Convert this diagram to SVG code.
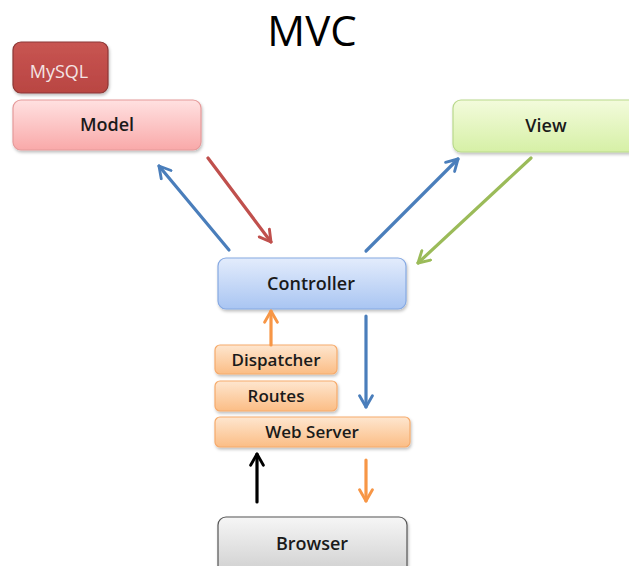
<svg xmlns="http://www.w3.org/2000/svg" width="629" height="566" viewBox="0 0 629 566">
<defs>
<linearGradient id="gModel" x1="0" y1="0" x2="0" y2="1"><stop offset="0" stop-color="#ffe1e1"/><stop offset="1" stop-color="#f9a9a9"/></linearGradient>
<linearGradient id="gSql" x1="0" y1="0" x2="0" y2="1"><stop offset="0" stop-color="#c85552"/><stop offset="1" stop-color="#b94542"/></linearGradient>
<linearGradient id="gView" x1="0" y1="0" x2="0" y2="1"><stop offset="0" stop-color="#f3fbdc"/><stop offset="1" stop-color="#d6f0a6"/></linearGradient>
<linearGradient id="gCtrl" x1="0" y1="0" x2="0" y2="1"><stop offset="0" stop-color="#e3ecfc"/><stop offset="1" stop-color="#a9c5f2"/></linearGradient>
<linearGradient id="gOr" x1="0" y1="0" x2="0" y2="1"><stop offset="0" stop-color="#fee6cf"/><stop offset="1" stop-color="#fbbd85"/></linearGradient>
<linearGradient id="gBr" x1="0" y1="0" x2="0" y2="1"><stop offset="0" stop-color="#f6f6f6"/><stop offset="1" stop-color="#cdcdcd"/></linearGradient>
<filter id="sh" x="-10%" y="-20%" width="120%" height="150%"><feDropShadow dx="1" dy="2" stdDeviation="1.5" flood-color="#000" flood-opacity="0.25"/></filter>
<marker id="aBlue" viewBox="0 0 10 10" refX="8" refY="5" markerWidth="5" markerHeight="5" orient="auto" markerUnits="strokeWidth"><path d="M1,1 L8,5 L1,9" fill="none" stroke="#4a7ebb" stroke-width="1.8" stroke-linecap="round" stroke-linejoin="round"/></marker>
<marker id="aRed" viewBox="0 0 10 10" refX="8" refY="5" markerWidth="5" markerHeight="5" orient="auto" markerUnits="strokeWidth"><path d="M1,1 L8,5 L1,9" fill="none" stroke="#c0504d" stroke-width="1.8" stroke-linecap="round" stroke-linejoin="round"/></marker>
<marker id="aGreen" viewBox="0 0 10 10" refX="8" refY="5" markerWidth="5" markerHeight="5" orient="auto" markerUnits="strokeWidth"><path d="M1,1 L8,5 L1,9" fill="none" stroke="#9bbb59" stroke-width="1.8" stroke-linecap="round" stroke-linejoin="round"/></marker>
<marker id="aOr" viewBox="0 0 10 10" refX="8" refY="5" markerWidth="5" markerHeight="5" orient="auto" markerUnits="strokeWidth"><path d="M1,1 L8,5 L1,9" fill="none" stroke="#f79646" stroke-width="1.8" stroke-linecap="round" stroke-linejoin="round"/></marker>
<marker id="aBlk" viewBox="0 0 10 10" refX="8" refY="5" markerWidth="5" markerHeight="5" orient="auto" markerUnits="strokeWidth"><path d="M1,1 L8,5 L1,9" fill="none" stroke="#000" stroke-width="1.8" stroke-linecap="round" stroke-linejoin="round"/></marker>
</defs>
<style>
text{font-family:"Open Sans","Liberation Sans",sans-serif;font-weight:600;text-anchor:middle;fill:#1a1a1a;}
.lbl{font-size:18px;}
.sm{font-size:17px;}
.box{filter:url(#sh);stroke-width:1.2;}
.c{fill:none;stroke-width:3.2;stroke-linecap:round;}
</style>
<rect width="629" height="566" fill="#ffffff"/>
<text x="312" y="46" style="font-size:42px;font-weight:400;fill:#000">MVC</text>

<g id="mysql"><rect class="box" x="13" y="42" width="95" height="51" rx="8" fill="url(#gSql)" stroke="#8c3836"/><text class="lbl" x="59" y="78" style="fill:#f4e4e4;font-weight:400">MySQL</text></g>
<g id="model"><rect class="box" x="13" y="100" width="188" height="50" rx="8" fill="url(#gModel)" stroke="#e59a9a"/><text class="lbl" x="107" y="131">Model</text></g>
<g id="view"><rect class="box" x="453" y="100" width="190" height="52" rx="8" fill="url(#gView)" stroke="#b9d98c"/><text class="lbl" x="546" y="132">View</text></g>
<g id="controller"><rect class="box" x="218" y="258" width="188" height="51" rx="8" fill="url(#gCtrl)" stroke="#86a9e2"/><text class="lbl" x="311" y="290">Controller</text></g>
<g id="dispatcher"><rect class="box" x="215" y="345" width="122" height="29" rx="5" fill="url(#gOr)" stroke="#f6ab6c"/><text class="sm" x="276" y="366">Dispatcher</text></g>
<g id="routes"><rect class="box" x="215" y="381" width="122" height="30" rx="5" fill="url(#gOr)" stroke="#f6ab6c"/><text class="sm" x="276" y="402">Routes</text></g>
<g id="webserver"><rect class="box" x="215" y="417" width="195" height="30" rx="5" fill="url(#gOr)" stroke="#f6ab6c"/><text class="sm" x="312" y="438">Web Server</text></g>
<g id="browser"><rect class="box" x="218" y="517" width="189" height="60" rx="8" fill="url(#gBr)" stroke="#555"/><text class="lbl" x="312" y="550">Browser</text></g>

<g id="connectors">
<line class="c" x1="229" y1="250" x2="159" y2="166" stroke="#4a7ebb" marker-end="url(#aBlue)"/>
<line class="c" x1="208" y1="158" x2="271" y2="242" stroke="#c0504d" marker-end="url(#aRed)"/>
<line class="c" x1="366" y1="251" x2="458" y2="159" stroke="#4a7ebb" marker-end="url(#aBlue)"/>
<line class="c" x1="531" y1="158" x2="418" y2="263" stroke="#9bbb59" marker-end="url(#aGreen)"/>
<line class="c" x1="271" y1="345" x2="271" y2="311" stroke="#f79646" marker-end="url(#aOr)"/>
<line class="c" x1="366" y1="316" x2="366" y2="407" stroke="#4a7ebb" marker-end="url(#aBlue)"/>
<line class="c" x1="257" y1="502" x2="257" y2="454" stroke="#000" marker-end="url(#aBlk)"/>
<line class="c" x1="366" y1="460" x2="366" y2="501" stroke="#f79646" marker-end="url(#aOr)"/>
</g>
</svg>
